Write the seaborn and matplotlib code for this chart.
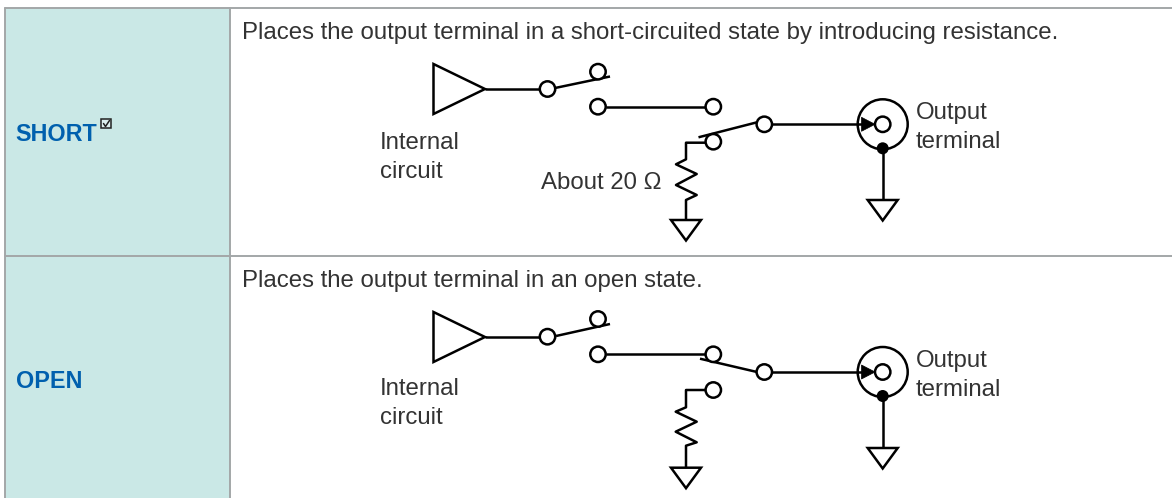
import matplotlib
matplotlib.use('Agg')
import matplotlib.pyplot as plt
import pandas as pd
import seaborn as sns
from matplotlib.patches import Circle, Polygon, Rectangle

# table frame
row_names = ['SHORT', 'OPEN']
row_y = [8, 255.5, 498]
descriptions = ['Places the output terminal in a short-circuited state by introducing resistance.',
                'Places the output terminal in an open state.']

# circuit, one list per wire (pixel positions of the source drawing)
wires = {
    'amp_a': [(485, 89), (540, 89)],
    'arm_a1': [(555, 88), (610, 76.5)],
    'link_a': [(606, 106.7), (705, 106.7)],
    'arm_a2': [(698.5, 137.3), (757, 122.3)],
    'out_a': [(772, 124.3), (863, 124.3)],
    'res_a': [(705, 142.7), (686, 142.7), (686, 159.3), (676, 164.3), (696.7, 174), (676, 185),
              (696.7, 195), (686, 200), (686, 220)],
    'gnd_a': [(882.7, 148), (882.7, 200)],
    'amp_b': [(485, 337), (540, 337)],
    'arm_b1': [(556, 336), (610, 324)],
    'link_b': [(606, 354.3), (705, 354.3)],
    'arm_b2': [(700, 358.7), (757, 372)],
    'out_b': [(772, 372), (863, 372)],
    'res_b': [(705, 390), (686, 390), (686, 407.3), (675.7, 411.7), (696.7, 421.7), (675.7, 431.7),
              (696.7, 442.3), (686, 445.7), (686, 467.7)],
    'gnd_b': [(882.7, 396), (882.7, 448)],
}
terminal_x = [547.5, 598, 598, 713.3, 764.3, 713.3, 882.7,
              547.5, 598, 598, 713.3, 764.3, 713.3, 882.7]
terminal_y = [89, 71.7, 106.7, 106.7, 124.3, 141.7, 124.3,
              336.7, 319, 354.3, 354.3, 372, 390, 372]
jack_x = [882.7, 882.7]
jack_y = [124.3, 372]
amp_y = [89, 337]
ground_points = [(686, 220), (882.7, 200), (686, 467.7), (882.7, 448)]

labels = [
    (380, 149, 'Internal'), (380, 178, 'circuit'),
    (541, 189, 'About 20 Ω'),
    (916, 119, 'Output'), (916, 148, 'terminal'),
    (380, 395, 'Internal'), (380, 423.5, 'circuit'),
    (916, 367, 'Output'), (916, 396, 'terminal'),
]

BLUE = '#0060ae'
CELL = '#cae8e6'
GRID = '#a3a7a8'
TEXT = '#333333'
FS = 17.3

sns.set_theme(style='white')
plt.rcParams['font.family'] = ['Liberation Sans', 'DejaVu Sans']

fig, ax = plt.subplots(figsize=(11.72, 4.98), dpi=100)
ax.set_position([0, 0, 1, 1])

# table
ax.add_patch(Rectangle((5, row_y[0]), 225, row_y[2] - row_y[0], fc=CELL, ec='none', zorder=0))
ax.plot([5, 5], [row_y[0], 498], color=GRID, lw=1.4)
ax.plot([230, 230], [row_y[0], 498], color=GRID, lw=1.4)
for y in row_y[:2]:
    ax.plot([5, 1172], [y, y], color=GRID, lw=1.4)

for name, desc, x, y, y2 in zip(row_names, descriptions, [15.5, 16], [141, 388], [39, 286.5]):
    ax.text(x, y, name, color=BLUE, fontsize=16.8, fontweight='bold', va='baseline')
    ax.text(242.5, y2, desc, color=TEXT, fontsize=FS, va='baseline')

# superscript check box next to SHORT
ax.add_patch(Rectangle((101.2, 118.8), 9.8, 9.6, fc='#dcefee', ec='#222222', lw=1.1, zorder=3))
ax.plot([103.5, 105.5, 109.5], [123.5, 126.5, 120.5], color='#222222', lw=1.1, zorder=4)

# wires
rows = [{'wire': k, 'order': i, 'x': p[0], 'y': p[1]} for k, pts in wires.items() for i, p in enumerate(pts)]
wire_df = pd.DataFrame(rows)
sns.lineplot(data=wire_df, x='x', y='y', units='wire', estimator=None, sort=False,
             color='black', lw=1.8, ax=ax, legend=False, solid_capstyle='butt')

# amplifiers
for y in amp_y:
    ax.add_patch(Polygon([(433.5, y - 25), (433.5, y + 25), (485, y)], fc='white', ec='black', lw=1.8, zorder=3))

# grounds
for x, y in ground_points:
    ax.add_patch(Polygon([(x - 15, y), (x + 15, y), (x, y + 20.5)], fc='white', ec='black', lw=1.8, zorder=3))

# output jacks
for x, y in zip(jack_x, jack_y):
    ax.add_patch(Circle((x, y), 25, fc='none', ec='black', lw=1.8, zorder=3))
    ax.add_patch(Polygon([(861.5, y - 7), (861.5, y + 7), (875, y)], fc='black', ec='black', lw=0.5, zorder=4))
    ax.add_patch(Circle((x, y + 24), 6, fc='black', ec='black', lw=0, zorder=4))

# terminals
for x, y in zip(terminal_x, terminal_y):
    ax.add_patch(Circle((x, y), 7.7, fc='white', ec='black', lw=1.8, zorder=5))

for x, y, s in labels:
    ax.text(x, y, s, color=TEXT, fontsize=FS, va='baseline')

ax.set_xlim(0, 1172)
ax.set_ylim(498, 0)
ax.axis('off')

fig.savefig('out.png', dpi=100)
